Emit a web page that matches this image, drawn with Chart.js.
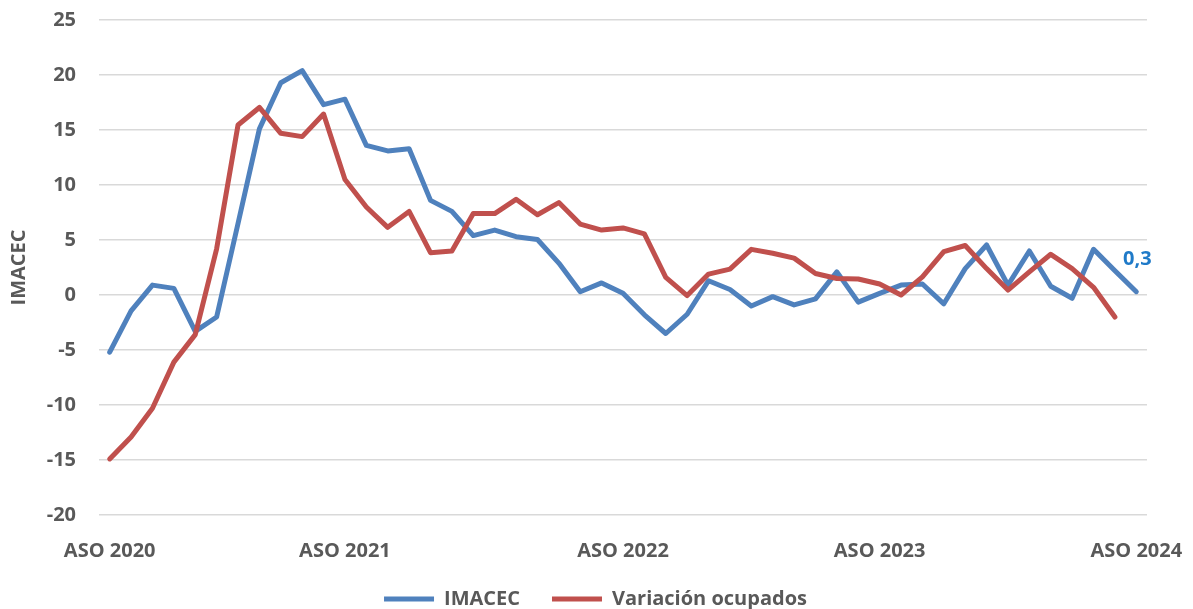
<html>
<head>
<script src="https://cdn.jsdelivr.net/npm/chart.js@4.4.1/dist/chart.umd.min.js"></script>
<style>
  body { margin: 0; background: #fff; }
  #wrap { width: 1193px; height: 609px; }
</style>
</head>
<body>
<div id="wrap"><canvas id="myChart" width="1193" height="609"></canvas></div>
<script>
// tick labels: only a few categories carry text
var tickLabels = ["ASO 2020","","","","","","","","","","","ASO 2021","","","","","","","","","","","","",
  "ASO 2022","","","","","","","","","","","","ASO 2023","","","","","","","","","","","","ASO 2024"];

var imacec = [-5.2, -1.45, 0.9, 0.6, -3.3, -2.0, 6.5, 15.1, 19.3, 20.4, 17.3, 17.8,
  13.6, 13.1, 13.3, 8.6, 7.6, 5.4, 5.9, 5.3, 5.05, 2.9, 0.3, 1.1,
  0.15, -1.8, -3.5, -1.75, 1.3, 0.5, -1.0, -0.15, -0.9, -0.35, 2.1, -0.65,
  0.15, 0.9, 1.0, -0.8, 2.4, 4.55, 0.9, 4.0, 0.8, -0.3, 4.15, 2.2, 0.3];

var ocupados = [-14.9, -12.9, -10.3, -6.1, -3.6, 4.2, 15.45, 17.05, 14.7, 14.4, 16.45, 10.5,
  8.0, 6.15, 7.6, 3.85, 4.0, 7.4, 7.4, 8.7, 7.3, 8.4, 6.45, 5.9,
  6.1, 5.55, 1.6, -0.05, 1.9, 2.35, 4.15, 3.8, 3.35, 1.95, 1.5, 1.45,
  1.0, 0.0, 1.65, 3.95, 4.5, 2.4, 0.45, 2.1, 3.7, 2.4, 0.7, -2.0, null];

var blue = '#4F81BD';
var red = '#C0504D';
var grey = '#595959';
var labelFont = { family: 'Open Sans', size: 20, weight: 'bold' };

Chart.defaults.font.family = 'Open Sans';

// value label on the last IMACEC point
var lastLabel = {
  id: 'lastLabel',
  afterDatasetsDraw: function(chart) {
    var meta = chart.getDatasetMeta(0);
    var pt = meta.data[meta.data.length - 1];
    var ctx = chart.ctx;
    ctx.save();
    ctx.font = 'bold 20px "Open Sans"';
    ctx.fillStyle = '#1F7AC8';
    ctx.textAlign = 'center';
    ctx.textBaseline = 'middle';
    ctx.fillText(String(imacec[imacec.length - 1]).replace('.', ','), pt.x + 1, pt.y - 32);
    ctx.restore();
  }
};

// legend sits low, centred on the page
var legendFix = {
  id: 'legendFix',
  afterInit: function(chart) {
    var lg = chart.legend;
    var fit = lg.fit.bind(lg);
    lg.fit = function() { fit(); this.height = 20; };
  },
  afterLayout: function(chart) {
    var lg = chart.legend;
    lg.top = 557;
    lg.bottom = 609;
    lg.height = 52;
    lg.left += 22;
    lg.right += 22;
  }
};

var ctx = document.getElementById('myChart').getContext('2d');
var chart = new Chart(ctx, {
  type: 'line',
  data: {
    labels: tickLabels,
    datasets: [
      {
        label: 'IMACEC',
        data: imacec,
        borderColor: blue,
        backgroundColor: blue,
        borderWidth: 5,
        pointRadius: 0,
        tension: 0,
        borderJoinStyle: 'round',
        borderCapStyle: 'round',
        order: 2
      },
      {
        label: 'Variación ocupados',
        data: ocupados,
        borderColor: red,
        backgroundColor: red,
        borderWidth: 5,
        pointRadius: 0,
        tension: 0,
        borderJoinStyle: 'round',
        borderCapStyle: 'round',
        order: 1
      }
    ]
  },
  options: {
    responsive: false,
    animation: false,
    layout: { padding: { top: 20, right: 46, left: 0, bottom: 0 } },
    plugins: {
      tooltip: { enabled: false },
      legend: {
        position: 'bottom',
        labels: {
          color: grey,
          font: labelFont,
          boxWidth: 50,
          boxHeight: 5,
          padding: 32,
          sort: function(a, b) { return a.datasetIndex - b.datasetIndex; },
          generateLabels: function(chart) {
            var items = Chart.defaults.plugins.legend.labels.generateLabels(chart);
            items.forEach(function(it) { it.lineWidth = 0; });
            return items;
          }
        }
      }
    },
    scales: {
      x: {
        offset: true,
        grid: { display: false },
        border: { display: false },
        ticks: {
          autoSkip: false,
          maxRotation: 0,
          minRotation: 0,
          color: grey,
          font: labelFont,
          padding: 16
        },
        afterFit: function(s) { s.height = 74; s.paddingLeft = 0; s.paddingRight = 0; }
      },
      y: {
        min: -20,
        max: 25,
        border: { display: false },
        grid: { color: '#D9D9D9', lineWidth: 1.5, drawTicks: false },
        ticks: { stepSize: 5, color: grey, font: labelFont, padding: 23 },
        title: {
          display: true,
          text: 'IMACEC',
          color: grey,
          font: labelFont,
          padding: { top: 7, bottom: 0 }
        },
        afterFit: function(s) { s.width = 99; s.paddingTop = 0; s.paddingBottom = 0; }
      }
    }
  },
  plugins: [lastLabel, legendFix]
});
</script>
</body>
</html>
